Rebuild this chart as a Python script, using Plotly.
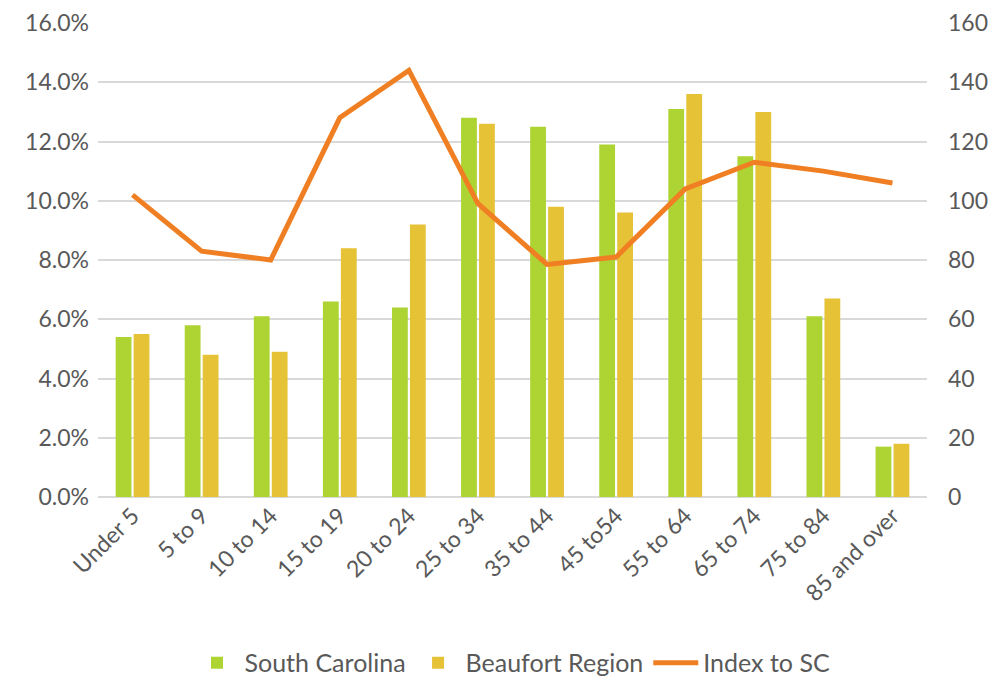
import plotly.graph_objects as go

categories = ["Under 5", "5 to 9", "10 to 14", "15 to 19", "20 to 24", "25 to 34",
              "35 to 44", "45 to54", "55 to 64", "65 to 74", "75 to 84", "85 and over"]
south_carolina = [5.4, 5.8, 6.1, 6.6, 6.4, 12.8, 12.5, 11.9, 13.1, 11.5, 6.1, 1.7]
beaufort_region = [5.5, 4.8, 4.9, 8.4, 9.2, 12.6, 9.8, 9.6, 13.6, 13.0, 6.7, 1.8]
index_to_sc = [102, 83, 80, 128, 144, 99, 78.5, 81, 104, 113, 110, 106]

left_ticks = [0, 2, 4, 6, 8, 10, 12, 14, 16]
left_labels = [f"{v:.1f}%" for v in left_ticks]
right_ticks = [0, 20, 40, 60, 80, 100, 120, 140, 160]

font_family = "Lato, 'Noto Sans', sans-serif"
grey = "#595959"

fig = go.Figure()
fig.add_trace(go.Bar(x=categories, y=south_carolina, name="South Carolina",
                     marker=dict(color="#ADD433", line=dict(width=0))))
fig.add_trace(go.Bar(x=categories, y=beaufort_region, name="Beaufort Region",
                     marker=dict(color="#E5C236", line=dict(width=0))))
fig.add_trace(go.Scatter(x=categories, y=index_to_sc, name="Index to SC", yaxis="y2",
                         mode="lines", line=dict(color="#EF7F22", width=5)))

# page body adds an 8px offset, so the figure is sized to fill the rest of the window
fig.update_layout(
    width=988, height=676,
    margin=dict(l=90, r=69, t=15, b=187, autoexpand=False),
    paper_bgcolor="white", plot_bgcolor="white",
    font=dict(family=font_family, size=23, color=grey),
    barmode="group", bargap=0.48, bargroupgap=0.12,
    showlegend=True,
    legend=dict(orientation="h", x=0.5, xanchor="center", y=-0.35, yanchor="middle",
                font=dict(size=25, color=grey), traceorder="normal",
                itemwidth=45),
    xaxis=dict(type="category", tickangle=-45, showgrid=False, showline=False,
               ticks="", automargin=False, tickfont=dict(size=23, color=grey)),
    yaxis=dict(range=[0, 16], tickvals=left_ticks, ticktext=left_labels,
               showgrid=True, gridcolor="#D9D9D9", gridwidth=1.5,
               zeroline=True, zerolinecolor="#D9D9D9", zerolinewidth=1.5,
               showline=False, ticks="", ticklabelstandoff=8, automargin=False,
               ticklabeloverflow="allow",
               tickfont=dict(size=23, color=grey)),
    yaxis2=dict(range=[0, 160], tickvals=right_ticks, overlaying="y", side="right",
                showgrid=False, zeroline=False, showline=False, ticks="",
                ticklabelstandoff=20, automargin=False, ticklabeloverflow="allow",
                tickfont=dict(size=23, color=grey)),
)

fig.write_html("out.html")
